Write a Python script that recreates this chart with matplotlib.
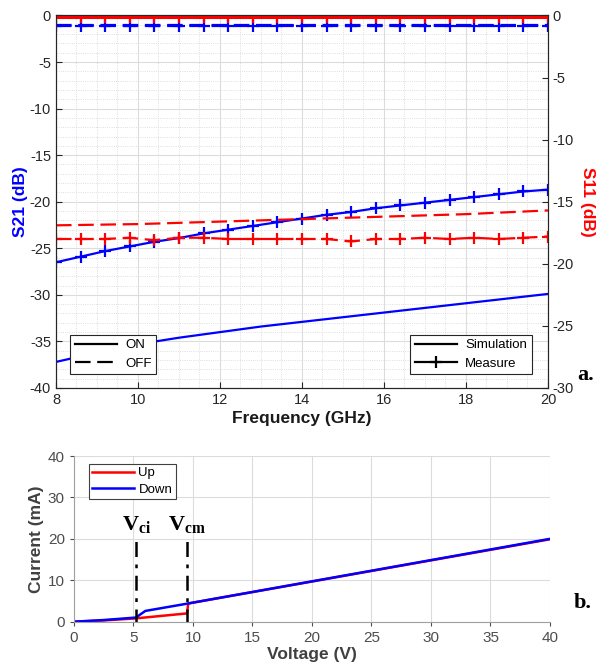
import numpy as np
import matplotlib
matplotlib.use("Agg")
import matplotlib.pyplot as plt
from matplotlib.lines import Line2D

plt.rcParams['font.family'] = ['Liberation Sans', 'DejaVu Sans']
plt.rcParams['axes.unicode_minus'] = False
plt.rcParams['mathtext.fontset'] = 'custom'
plt.rcParams['mathtext.rm'] = 'Liberation Serif'
plt.rcParams['mathtext.bf'] = 'Liberation Serif:bold'

# ---- data (top: S-parameters) ----
freq_sim = [8, 9, 10, 11, 12, 13, 14, 15, 16, 17, 18, 19, 20]
freq_meas = [8.0, 8.6, 9.2, 9.8, 10.4, 11.0, 11.6, 12.2, 12.8, 13.4, 14.0,
             14.6, 15.2, 15.8, 16.4, 17.0, 17.6, 18.2, 18.8, 19.4, 20.0]

s21_on_sim = [-37.2, -36.2, -35.3, -34.6, -34.0, -33.4, -32.9, -32.4,
              -31.9, -31.4, -30.9, -30.4, -29.9]
s21_on_meas = [-26.5, -25.9, -25.3, -24.8, -24.3, -23.9, -23.4, -23.0,
               -22.6, -22.2, -21.8, -21.4, -21.1, -20.7, -20.4, -20.1,
               -19.8, -19.5, -19.2, -18.9, -18.7]
s21_off_sim = [-1.05] * 13
s21_off_meas = [-1.1, -1.1, -1.1, -1.1, -1.1, -1.1, -1.1, -1.1, -1.1, -1.1,
                -1.1, -1.1, -1.1, -1.1, -1.1, -1.1, -1.1, -1.1, -1.1, -1.1, -1.1]

s11_on_sim = [-0.05, -0.05, -0.05, -0.05, -0.05, -0.05, -0.05, -0.1, -0.15,
              -0.15, -0.1, -0.05, -0.05]
s11_on_meas = [-0.1] * 21
s11_off_sim = [-16.9, -16.85, -16.8, -16.7, -16.6, -16.5, -16.4, -16.3,
               -16.2, -16.1, -16.0, -15.85, -15.7]
s11_off_meas = [-18.0, -18.0, -18.0, -17.9, -18.1, -17.9, -17.9, -18.0,
                -18.0, -18.0, -18.0, -18.0, -18.2, -18.0, -18.0, -17.9,
                -18.0, -17.9, -18.0, -17.9, -17.8]

# ---- data (bottom: I-V) ----
v_up = [0, 2.5, 5.2, 9.5, 9.6, 40]
i_up = [0, 0.3, 0.8, 2.0, 4.4, 19.9]
v_down = [0, 2.5, 5.2, 6.0, 9.6, 40]
i_down = [0, 0.4, 1.0, 2.6, 4.4, 20.0]
v_ci = 5.25
v_cm = 9.5

fig = plt.figure(figsize=(5.98, 6.70), dpi=100)

# ================= top plot =================
ax = fig.add_axes([0.0936, 0.4209, 0.8227, 0.556])
ax2 = ax.twinx()

lw = 1.6
dash = (7, 3)
ax.plot(freq_sim, s21_on_sim, color='blue', lw=lw)
ax.plot(freq_meas, s21_on_meas, color='blue', lw=lw, marker='+', ms=9, mew=1.6)
ax.plot(freq_sim, s21_off_sim, color='blue', lw=lw, dashes=dash)
ax.plot(freq_meas, s21_off_meas, color='blue', lw=lw, dashes=dash,
        marker='+', ms=9, mew=1.6)

ax2.plot(freq_sim, s11_on_sim, color='red', lw=2.2)
ax2.plot(freq_meas, s11_on_meas, color='red', lw=2.2, marker='+', ms=9, mew=1.6)
ax2.plot(freq_sim, s11_off_sim, color='red', lw=lw, dashes=dash)
ax2.plot(freq_meas, s11_off_meas, color='red', lw=lw, dashes=dash,
         marker='+', ms=9, mew=1.6)

ax.set_xlim(8, 20)
ax.set_ylim(-40, 0)
ax2.set_ylim(-30, 0)
ax.set_xticks([8, 10, 12, 14, 16, 18, 20])
ax.set_yticks(np.arange(-40, 1, 5))
ax2.set_yticks(np.arange(-30, 1, 5))
ax.set_xticks(np.arange(8, 20.01, 0.5), minor=True)
ax.set_yticks(np.arange(-40, 0.01, 1), minor=True)
ax.grid(True, which='major', color='#dcdcdc', lw=0.8)
ax.grid(True, which='minor', color='#d4d4d4', lw=0.6, ls=':')
ax.tick_params(which='minor', length=0)
ax.tick_params(which='major', direction='in', length=4, labelsize=10.5, colors='#262626')
ax2.tick_params(which='major', direction='in', length=4, labelsize=10.5, colors='#262626')
for a in (ax, ax2):
    for s in a.spines.values():
        s.set_color('#262626')
ax.set_axisbelow(True)

ax.set_xlabel('Frequency (GHz)', fontsize=12.5, fontweight='bold', color='#1a1a1a',
              labelpad=3)
ax.set_ylabel('S21 (dB)', fontsize=12.5, fontweight='bold', color='blue', labelpad=1)
ax2.set_ylabel('S11 (dB)', fontsize=12.5, fontweight='bold', color='red',
               rotation=270, labelpad=15)

h1 = [Line2D([], [], color='k', lw=1.6), Line2D([], [], color='k', lw=1.6, dashes=dash)]
leg1 = ax2.legend(h1, ['ON', 'OFF'], loc='lower left', bbox_to_anchor=(0.029, 0.037),
                  borderaxespad=0, fontsize=9.5, frameon=True, fancybox=False,
                  edgecolor='#262626', handlelength=3.2, borderpad=0.35,
                  labelspacing=0.45, handletextpad=0.6)
leg1.get_frame().set_linewidth(0.8)
ax2.add_artist(leg1)
h2 = [Line2D([], [], color='k', lw=1.6),
      Line2D([], [], color='k', lw=1.6, marker='+', ms=9, mew=1.6, markevery=[1])]
leg2 = ax2.legend(h2, ['Simulation', 'Measure'], loc='lower right',
                  bbox_to_anchor=(0.967, 0.037), borderaxespad=0, fontsize=9.5,
                  frameon=True, fancybox=False, edgecolor='#262626',
                  handlelength=3.2, borderpad=0.35, labelspacing=0.45,
                  handletextpad=0.6)
leg2.get_frame().set_linewidth(0.8)
for lg in (leg1, leg2):
    lg.get_frame().set_alpha(1)

fig.text(0.965, 0.44, 'a.', fontsize=16, fontweight='bold',
         family='Liberation Serif', ha='left', va='center')

# ================= bottom plot =================
bx = fig.add_axes([0.1237, 0.0721, 0.796, 0.2473])
bx.plot(v_up, i_up, color='red', lw=1.8, label='Up')
bx.plot(v_down, i_down, color='blue', lw=1.8, label='Down')
bx.plot([v_ci, v_ci], [-0.5, 20.5], color='black', lw=1.8, dashes=(6, 3, 1.5, 3))
bx.plot([v_cm, v_cm], [-0.5, 20.5], color='black', lw=1.8, dashes=(6, 3, 1.5, 3))
bx.text(v_ci, 21.0, r'$\mathbf{V_{ci}}$', fontsize=16, ha='center', va='bottom')
bx.text(v_cm, 21.0, r'$\mathbf{V_{cm}}$', fontsize=16, ha='center', va='bottom')
bx.set_xlim(0, 40)
bx.set_ylim(0, 40)
bx.set_xticks(np.arange(0, 41, 5))
bx.set_yticks([0, 10, 20, 30, 40])
bx.grid(True, color='#dcdcdc', lw=0.8)
bx.set_axisbelow(True)
bx.tick_params(direction='out', length=3, labelsize=11, colors='#4d4d4d')
for s in ['top', 'right']:
    bx.spines[s].set_visible(False)
for s in ['left', 'bottom']:
    bx.spines[s].set_color('#a0a0a0')
bx.set_xlabel('Voltage (V)', fontsize=12.5, fontweight='bold', color='#404040', labelpad=2)
bx.set_ylabel('Current (mA)', fontsize=12.5, fontweight='bold', color='#404040', labelpad=3)
bl = bx.legend(loc='upper left', bbox_to_anchor=(0.0315, 0.952), borderaxespad=0,
               fontsize=9.5, fancybox=False, edgecolor='#404040', handlelength=3.2,
               borderpad=0.25, labelspacing=0.3, handletextpad=0.3)
bl.get_frame().set_linewidth(0.8)
bl.get_frame().set_alpha(1)

fig.text(0.96, 0.1, 'b.', fontsize=16, fontweight='bold',
         family='Liberation Serif', ha='left', va='center')

fig.savefig('out.png', dpi=100)
